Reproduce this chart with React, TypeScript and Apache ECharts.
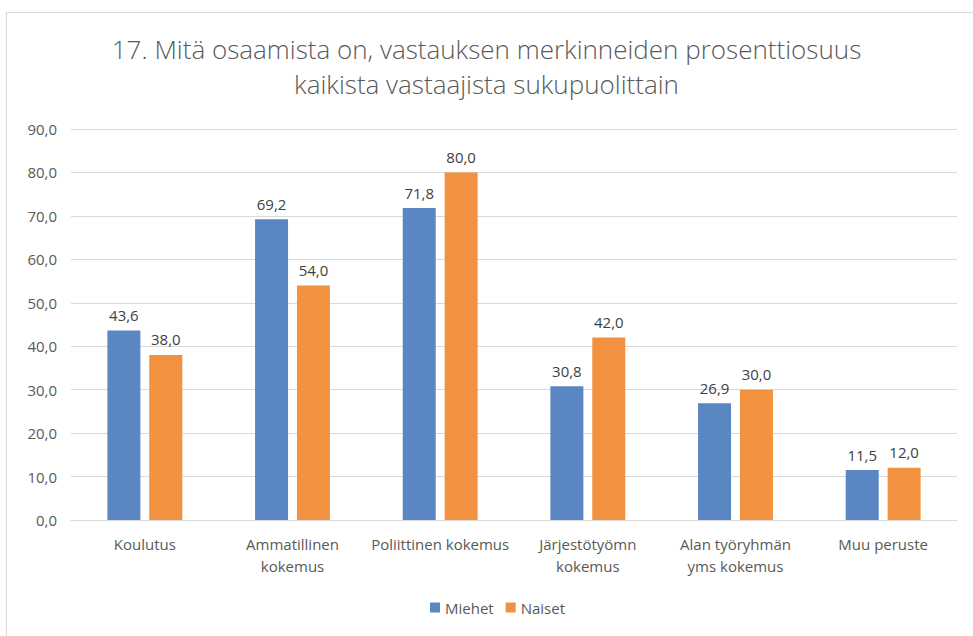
import React, { useEffect, useRef } from "react";
import * as echarts from "echarts";

const titleText = "17. Mitä osaamista on, vastauksen merkinneiden prosenttiosuus\nkaikista vastaajista sukupuolittain";
const categories = [
  "Koulutus",
  "Ammatillinen\nkokemus",
  "Poliittinen kokemus",
  "Järjestötyömn\nkokemus",
  "Alan työryhmän\nyms kokemus",
  "Muu peruste",
];
const miehet = [43.6, 69.2, 71.8, 30.8, 26.9, 11.5];
const naiset = [38.0, 54.0, 80.0, 42.0, 30.0, 12.0];
const seriesNames = ["Miehet", "Naiset"];

const FONT = "'Open Sans', 'Noto Sans', sans-serif";

export default function App() {
  const ref = useRef<HTMLDivElement>(null);
  useEffect(() => {
    if (!ref.current) return;
    const chart = echarts.init(ref.current, undefined, { renderer: "svg" });
    const fmt = (v: number) => v.toFixed(1).replace(".", ",");
    const labelCfg = {
      show: true,
      position: "top" as const,
      distance: 8,
      color: "#404040",
      fontSize: 15,
      fontFamily: FONT,
      formatter: (p: any) => fmt(p.value),
    };
    chart.setOption({
      animation: false,
      backgroundColor: "#fff",
      textStyle: { fontFamily: FONT },
      title: {
        text: titleText,
        left: "center",
        top: 26,
        textStyle: {
          fontFamily: FONT,
          fontSize: 26,
          fontWeight: 300,
          color: "#595959",
          lineHeight: 35,
        },
      },
      graphic: [
        {
          type: "rect",
          shape: { x: 6.5, y: 12.5, width: 980, height: 640 },
          style: { fill: "none", stroke: "#d9d9d9", lineWidth: 1 },
          silent: true,
        },
      ],
      legend: {
        data: seriesNames,
        bottom: 16,
        left: 425,
        itemWidth: 10,
        itemHeight: 10,
        itemGap: 12,
        icon: "rect",
        textStyle: { fontFamily: FONT, fontSize: 15, color: "#595959" },
      },
      grid: { left: 71, right: 16, top: 129, bottom: 116, containLabel: false },
      xAxis: {
        type: "category",
        data: categories,
        axisLine: { lineStyle: { color: "#d9d9d9", width: 1 } },
        axisTick: { show: false },
        axisLabel: {
          color: "#595959",
          fontSize: 15,
          fontFamily: FONT,
          margin: 13,
          lineHeight: 22,
          interval: 0,
        },
      },
      yAxis: {
        type: "value",
        min: 0,
        max: 90,
        interval: 10,
        axisLine: { show: false },
        axisTick: { show: false },
        splitLine: { lineStyle: { color: "#d9d9d9", width: 1 } },
        axisLabel: {
          color: "#595959",
          fontSize: 15,
          fontFamily: FONT,
          margin: 14,
          formatter: (v: number) => fmt(v),
        },
      },
      series: [
        {
          name: seriesNames[0],
          type: "bar",
          data: miehet,
          barWidth: 33,
          barGap: "27%",
          itemStyle: { color: "#5B86C4" },
          label: labelCfg,
        },
        {
          name: seriesNames[1],
          type: "bar",
          data: naiset,
          barWidth: 33,
          barGap: "27%",
          itemStyle: { color: "#F2913F" },
          label: labelCfg,
        },
      ],
    });
    return () => chart.dispose();
  }, []);
  return (
    <div
      ref={ref}
      style={{ position: "absolute", left: 0, top: 0, width: 973, height: 636 }}
    />
  );
}
